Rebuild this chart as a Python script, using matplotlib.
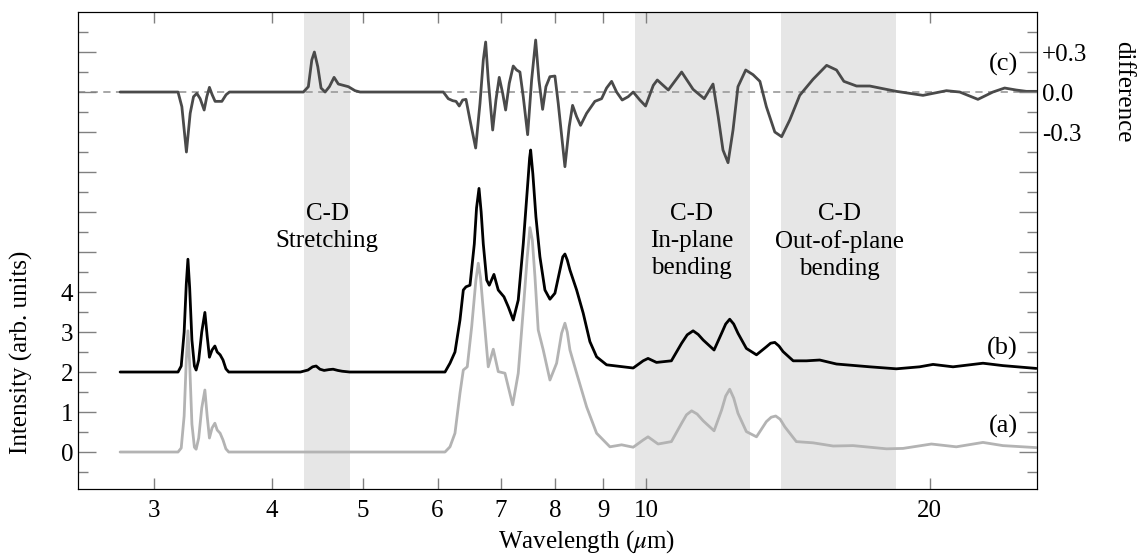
import matplotlib
matplotlib.use('Agg')
import matplotlib.pyplot as plt
import numpy as np

plt.rcParams['font.family'] = ['Liberation Serif', 'DejaVu Serif']
plt.rcParams['mathtext.fontset'] = 'stix'

# spectrum (a): wavelength (um) and intensity
wl_a = [2.76, 3.18, 3.205, 3.228, 3.245, 3.258, 3.272, 3.29, 3.31, 3.324, 3.345, 3.37, 3.396, 3.415, 3.434,
        3.456, 3.48, 3.50, 3.525, 3.55, 3.575, 3.60,
        6.11, 6.185, 6.261, 6.338, 6.39, 6.452, 6.522, 6.59, 6.628, 6.665,
        6.71, 6.792, 6.876, 6.96, 7.075, 7.21, 7.309, 7.399, 7.47, 7.521,
        7.565, 7.614, 7.675, 7.77, 7.898, 8.028, 8.127, 8.193, 8.24, 8.294,
        8.431, 8.639, 8.853, 9.146, 9.411, 9.682, 9.921, 10.04, 10.29, 10.63,
        10.90, 11.03, 11.17, 11.32, 11.49, 11.80, 12.02, 12.14, 12.26, 12.38,
        12.51, 12.77, 13.09, 13.41, 13.57, 13.72, 13.87, 14.03, 14.43, 15.03,
        15.79, 16.58, 17.99, 18.73, 20.08, 21.34, 22.78, 23.92, 25.95]
int_a = [0, 0, 0.1, 0.9, 2.3, 3.03, 2.2, 0.7, 0.12, 0.07, 0.35, 1.1, 1.55, 0.9, 0.35,
         0.6, 0.72, 0.55, 0.47, 0.3, 0.08, 0,
         0, 0.13, 0.47, 1.47, 2.05, 2.13, 3.13, 4.3, 4.72, 4.35,
         3.55, 2.13, 2.57, 2.01, 1.97, 1.18, 1.97, 3.55, 4.85, 5.61,
         5.3, 4.38, 3.05, 2.55, 1.8, 2.22, 2.97, 3.22, 3.0, 2.55,
         1.97, 1.13, 0.47, 0.13, 0.18, 0.12, 0.3, 0.38, 0.2, 0.26,
         0.72, 0.93, 1.03, 0.95, 0.78, 0.53, 1.05, 1.4, 1.57, 1.35,
         0.97, 0.51, 0.38, 0.76, 0.87, 0.9, 0.82, 0.63, 0.26, 0.23,
         0.15, 0.16, 0.08, 0.09, 0.2, 0.13, 0.24, 0.16, 0.11]

# spectrum (b)
wl_b = [2.76, 3.18, 3.205, 3.228, 3.245, 3.258, 3.272, 3.29, 3.31, 3.324, 3.345, 3.37, 3.396, 3.415, 3.434,
        3.456, 3.48, 3.50, 3.525, 3.55, 3.575, 3.60,
        4.29, 4.37, 4.42, 4.458, 4.50, 4.546, 4.60, 4.647, 4.70, 4.75, 4.84,
        6.11, 6.185, 6.261, 6.338, 6.39, 6.432, 6.495, 6.564, 6.60, 6.64,
        6.675, 6.71, 6.766, 6.809, 6.887, 6.96, 7.058, 7.133, 7.22, 7.309,
        7.399, 7.49, 7.515, 7.534, 7.575, 7.632, 7.707, 7.802, 7.898, 7.995,
        8.107, 8.15, 8.193, 8.24, 8.294, 8.431, 8.568, 8.709, 8.853, 9.072,
        9.372, 9.682, 9.921, 10.04, 10.25, 10.63, 10.90, 11.05, 11.21, 11.35,
        11.49, 11.80, 12.02, 12.14, 12.26, 12.38, 12.51, 12.77, 13.09, 13.41,
        13.55, 13.69, 13.83, 13.97, 14.32, 14.79, 15.28, 15.92, 17.27, 18.43,
        19.51, 20.16, 21.17, 22.78, 23.92, 25.95]
int_b = [0, 0, 0.15, 1.0, 2.2, 2.82, 2.1, 0.8, 0.15, 0.05, 0.3, 1.0, 1.49, 0.9, 0.37,
         0.55, 0.65, 0.5, 0.43, 0.3, 0.08, 0,
         0, 0.05, 0.13, 0.15, 0.07, 0.04, 0.06, 0.07, 0.04, 0.02, 0,
         0, 0.22, 0.5, 1.3, 2.05, 2.13, 2.17, 3.2, 4.1, 4.59,
         4.0, 3.2, 2.3, 2.17, 2.44, 2.05, 1.88, 1.63, 1.3, 1.8,
         3.2, 4.88, 5.35, 5.55, 4.95, 3.88, 2.88, 2.05, 1.82, 1.97,
         2.63, 2.88, 2.95, 2.8, 2.55, 2.05, 1.47, 0.76, 0.38, 0.18,
         0.14, 0.1, 0.28, 0.34, 0.24, 0.28, 0.72, 0.93, 1.03, 0.94,
         0.8, 0.55, 0.97, 1.2, 1.32, 1.2, 0.97, 0.59, 0.43, 0.63,
         0.72, 0.74, 0.65, 0.51, 0.28, 0.28, 0.3, 0.2, 0.13, 0.08,
         0.13, 0.19, 0.13, 0.22, 0.16, 0.09]

# difference (c)
wl_c = [2.76, 3.18, 3.21, 3.246, 3.276, 3.303, 3.33, 3.357, 3.39, 3.412, 3.434, 3.457, 3.482, 3.54, 3.577, 3.606,
        4.321, 4.374, 4.411, 4.439, 4.476, 4.512, 4.557, 4.605, 4.658, 4.707, 4.765, 4.824, 4.903, 4.964,
        6.085, 6.159, 6.226, 6.277, 6.327, 6.38, 6.432, 6.495, 6.586, 6.656,
        6.71, 6.749, 6.792, 6.866, 6.921, 6.977, 7.036, 7.087, 7.15, 7.22,
        7.28, 7.339, 7.399, 7.479, 7.552, 7.627, 7.688, 7.758, 7.821, 7.898,
        7.995, 8.06, 8.193, 8.279, 8.348, 8.431, 8.513, 8.639, 8.816, 8.962,
        9.072, 9.184, 9.297, 9.425, 9.564, 9.682, 9.841, 9.98, 10.17, 10.27,
        10.55, 10.90, 11.21, 11.52, 11.77, 11.92, 12.06, 12.21, 12.36, 12.51,
        12.75, 12.98, 13.20, 13.41, 13.69, 13.92, 14.20, 14.55, 15.03, 15.54,
        15.92, 16.21, 16.72, 17.27, 17.84, 18.43, 19.67, 20.83, 21.52, 22.50,
        23.34, 24.02, 24.71, 25.33, 25.99]
diff_c = [0, 0, -0.11, -0.45, -0.16, -0.035, -0.01, -0.05, -0.135, -0.035, 0.035, -0.02, -0.07, -0.07, -0.02, 0,
          0, 0.04, 0.24, 0.30, 0.19, 0.03, 0, 0.04, 0.11, 0.06, 0.05, 0.04, 0.01, 0,
          0, -0.05, -0.065, -0.07, -0.105, -0.06, -0.055, -0.21, -0.42, -0.085,
          0.24, 0.375, 0.09, -0.285, -0.06, 0.11, -0.01, -0.135, 0.065, 0.195,
          0.165, 0.15, -0.035, -0.32, 0.09, 0.39, 0.09, -0.13, 0.04, 0.115,
          0.12, -0.085, -0.56, -0.26, -0.1, -0.185, -0.25, -0.16, -0.07, -0.05,
          0.03, 0.08, 0, -0.06, -0.035, 0, -0.06, -0.105, 0.05, 0.09,
          0.015, 0.15, 0.02, -0.05, 0.06, -0.185, -0.435, -0.53, -0.285, 0.04,
          0.165, 0.13, 0.08, -0.11, -0.3, -0.335, -0.21, -0.025, 0.095, 0.2,
          0.165, 0.08, 0.045, 0.045, 0.025, 0.005, -0.025, 0.01, 0, -0.055,
          0, 0.03, 0.015, 0.005, 0.005]

# shaded C-D bands (um) and their labels
bands = [(4.33, 4.84), (9.72, 12.88), (13.9, 18.4)]
band_labels = ["C-D\nStretching", "C-D\nIn-plane\nbending", "C-D\nOut-of-plane\nbending"]
band_label_x = [4.58, 11.17, 16.05]

xticks = [3, 4, 5, 6, 7, 8, 9, 10, 20]
offset_b = 2.0
offset_c = 9.0
diff_scale = 0.3   # difference units per intensity unit

fig = plt.figure(figsize=(11.44, 5.54), dpi=100)
ax = fig.add_axes([0.0682, 0.1173, 0.8383, 0.8610])

for lo, hi in bands:
    ax.axvspan(lo, hi, color='#e6e6e6', lw=0, zorder=0)

line_kw = dict(lw=2.0, solid_joinstyle='round', solid_capstyle='round')
ax.axhline(offset_c, color='#a0a0a0', lw=1.3, ls=(0, (4, 3)), zorder=1)
ax.plot(wl_a, int_a, color='#b3b3b3', zorder=2, **line_kw)
ax.plot(wl_b, np.array(int_b) + offset_b, color='black', zorder=3, **line_kw)
ax.plot(wl_c, np.array(diff_c) / diff_scale + offset_c, color='#4a4a4a', zorder=3, **line_kw)

for lab, xl in zip(band_labels, band_label_x):
    ax.text(xl, 6.22, lab, ha='center', va='top', fontsize=18, linespacing=1.28)

ax.text(0.98, 9.7, "(c)", transform=ax.get_yaxis_transform(), ha='right', va='center', fontsize=19)
ax.text(0.98, 2.6, "(b)", transform=ax.get_yaxis_transform(), ha='right', va='center', fontsize=19)
ax.text(0.98, 0.65, "(a)", transform=ax.get_yaxis_transform(), ha='right', va='center', fontsize=19)

ax.set_xscale('log')
ax.set_xlim(2.49, 26.0)
ax.set_ylim(-0.925, 11.0)
ax.set_xticks(xticks)
ax.set_xticklabels([str(t) for t in xticks])
ax.xaxis.set_minor_locator(matplotlib.ticker.NullLocator())
ax.set_yticks(range(0, 11))
ax.set_yticklabels([str(i) if i <= 4 else '' for i in range(0, 11)])
ax.set_yticks(np.arange(-0.5, 11, 1.0), minor=True)
ax.tick_params(which='both', direction='in', top=True, color='#808080', labelsize=18)
ax.tick_params(which='major', length=13, width=1)
ax.tick_params(which='minor', length=7, width=1)
ax.tick_params(axis='x', which='major', length=8, pad=8)

ax2 = ax.twinx()
ax2.set_ylim(ax.get_ylim())
ax2.set_yticks(range(0, 11))
ax2.set_yticklabels(['-0.3' if i == 8 else '0.0' if i == 9 else '+0.3' if i == 10 else '' for i in range(0, 11)])
ax2.set_yticks(np.arange(-0.5, 11, 1.0), minor=True)
ax2.tick_params(which='both', direction='in', color='#808080', labelsize=18)
ax2.tick_params(which='major', length=13, width=1)
ax2.tick_params(which='minor', length=7, width=1)
ax2.text(1.09, offset_c, "difference", transform=ax.get_yaxis_transform(), rotation=-90,
         ha='center', va='center', fontsize=18)

ax.set_xlabel(r"Wavelength ($\mu$m)", fontsize=18)
ax.xaxis.set_label_coords(0.53, -0.083)
ax.set_ylabel("Intensity (arb. units)", fontsize=18)
ax.yaxis.set_label_coords(-0.047, 0.287)

plt.savefig("out.png", dpi=100)
plt.close()
